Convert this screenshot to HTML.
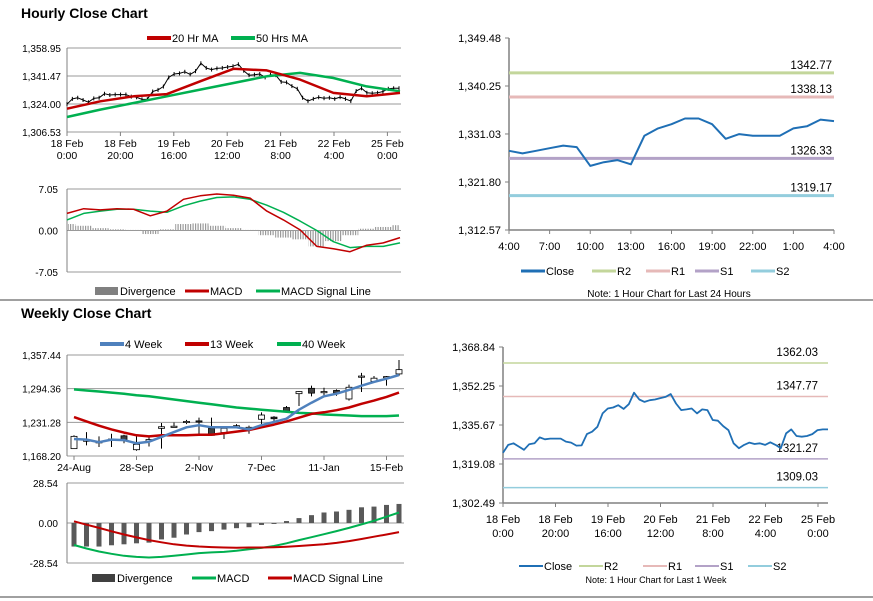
<!DOCTYPE html>
<html><head><meta charset="utf-8"><style>
html,body{margin:0;padding:0;background:#fff;}
svg{display:block;font-family:"Liberation Sans",Arial,sans-serif;}
</style></head><body>
<svg id="c" width="873" height="601" viewBox="0 0 873 601">
<defs><pattern id="stripes" width="2.5" height="4" patternUnits="userSpaceOnUse"><rect x="0" y="0" width="1.2" height="4" fill="#9a9a9a"/></pattern></defs>
<line x1="0" y1="300" x2="873" y2="300" stroke="#808080" stroke-width="1.5"/>
<line x1="0" y1="597" x2="873" y2="597" stroke="#808080" stroke-width="1.5"/>
<text x="21" y="18" font-size="14" font-weight="bold">Hourly Close Chart</text>
<text x="21" y="318" font-size="14" font-weight="bold">Weekly Close Chart</text>
<text x="669" y="297" font-size="10" text-anchor="middle">Note: 1 Hour Chart for Last 24 Hours</text>
<text x="656" y="583" font-size="9" text-anchor="middle">Note: 1 Hour Chart for Last 1 Week</text>
</svg>
<script>
// ---- data ----
const weekCloseSeries = [1323.9,1327.2,1327.9,1326.5,1325.1,1327.5,1327.9,1330.4,1329.6,1329.9,1329.9,1329.9,1328.6,1328.2,1326.9,1327.0,1331.8,1332.8,1334.9,1340.6,1342.7,1343.1,1344.1,1342.5,1344.5,1349.4,1346.5,1345.5,1346.2,1346.5,1347.1,1347.6,1348.8,1344.8,1342.0,1342.3,1342.7,1340.6,1342.3,1342.0,1337.8,1337.5,1335.2,1333.5,1327.9,1325.8,1327.2,1328.2,1327.6,1327.9,1327.2,1328.3,1327.2,1325.8,1332.1,1333.8,1331.0,1330.7,1331.0,1331.8,1333.5,1333.8,1333.8];
const ma20 = [1321.1,1325.7,1328.8,1330.2,1338.2,1346.0,1345.0,1339.2,1330.9,1328.8,1330.9];
const ma50 = [1315.9,1320.5,1324.6,1328.8,1333.0,1337.1,1341.3,1343.4,1340.2,1335.0,1331.9];
const hMacd = [2.9,3.7,3.5,3.7,3.6,2.5,3.3,5.3,5.9,6.2,6.0,5.5,3.3,1.8,0.1,-2.7,-3.1,-3.6,-2.5,-2.1,-1.2];
const hSignal = [1.8,2.9,3.3,3.6,3.6,3.3,3.1,4.2,5.0,5.6,5.7,5.3,4.3,3.1,1.6,0.0,-1.9,-2.9,-2.7,-2.7,-2.1];
const hDiv = [1.1,0.8,0.4,0.2,0.1,-0.6,0.2,1.1,1.2,0.8,0.4,0.1,-0.8,-1.2,-1.5,-2.7,-1.8,-0.8,0.3,0.6,0.9];
const dayClose = [1327.8,1327.3,1327.8,1328.3,1328.8,1328.5,1324.9,1325.6,1326.0,1325.2,1330.7,1332.1,1332.9,1334.0,1334.0,1332.9,1330.1,1331.0,1330.7,1330.7,1330.7,1332.1,1332.5,1333.8,1333.5];
const dayLevels = [1342.77,1338.13,1326.33,1319.17];
const weekLevels = [1362.03,1347.77,1321.27,1309.03];
const levelNames = ['R2','R1','S1','S2'];
const wOpen  = [1182,1197,1195,1199,1206,1180,1196,1220,1224,1232,1234,1220,1212,1223,1222,1237,1241,1259,1285,1295,1289,1291,1275,1318,1308,1316,1322];
const wClose = [1205,1198,1193,1200,1199,1190,1199,1223,1224,1233,1233,1207,1220,1225,1222,1245,1238,1252,1289,1286,1289,1286,1297,1318,1314,1317,1330];
const wHigh  = [1207,1213,1205,1210,1208,1205,1203,1230,1231,1236,1240,1240,1223,1228,1225,1250,1243,1262,1290,1300,1296,1293,1302,1324,1318,1318,1348];
const wLow   = [1182,1188,1185,1185,1192,1178,1186,1182,1222,1228,1210,1207,1200,1220,1210,1222,1233,1252,1262,1280,1282,1281,1272,1288,1305,1300,1318];
const ma4w  = [1200,1199,1194,1199,1198,1192,1195,1204,1213,1222,1226,1222,1222,1222,1218,1226,1232,1238,1255,1268,1280,1285,1292,1300,1307,1313,1320];
const ma13w = [1241,1233,1225,1218,1212,1207,1205,1207,1207,1207,1208,1208,1211,1214,1217,1222,1227,1233,1240,1247,1250,1254,1259,1266,1272,1279,1287];
const ma40w = [1293,1291,1289,1287,1285,1282,1280,1277,1274,1271,1268,1265,1262,1259,1257,1255,1253,1251,1249,1248,1246,1245,1244,1243,1243,1243,1244];
const wDiv = [-16.8,-16.8,-16.8,-15.9,-15.2,-14.5,-14.0,-11.7,-10.5,-8.2,-6.5,-5.8,-4.7,-3.7,-3.0,-1.4,-0.7,1.4,3.5,5.6,7.5,8.2,9.4,11.2,11.7,12.9,13.6];
const wMacd = [-15.7,-18.2,-20.3,-22.0,-23.4,-24.2,-24.6,-24.2,-23.4,-22.5,-21.5,-21.0,-20.6,-19.8,-18.7,-17.8,-16.4,-14.5,-12.2,-10.1,-8.0,-5.8,-3.5,-1.0,1.6,4.5,7.5];
const wSignal = [1.2,-1.2,-3.5,-5.9,-8.2,-10.3,-12.2,-13.8,-15.2,-16.1,-16.8,-17.2,-17.5,-17.6,-17.5,-17.5,-17.3,-16.9,-16.4,-15.8,-15.2,-14.2,-12.9,-11.4,-9.8,-8.2,-6.5];
const hPriceTicks = ['1,358.95','1,341.47','1,324.00','1,306.53'];
const hMacdTicks = ['7.05','0.00','-7.05'];
const hXLabels = [['18 Feb','0:00'],['18 Feb','20:00'],['19 Feb','16:00'],['20 Feb','12:00'],['21 Feb','8:00'],['22 Feb','4:00'],['25 Feb','0:00']];
const dayYTicks = ['1,349.48','1,340.25','1,331.03','1,321.80','1,312.57'];
const dayXLabels = ['4:00','7:00','10:00','13:00','16:00','19:00','22:00','1:00','4:00'];
const wPriceTicks = ['1,357.44','1,294.36','1,231.28','1,168.20'];
const wMacdTicks = ['28.54','0.00','-28.54'];
const wXLabels = ['24-Aug','28-Sep','2-Nov','7-Dec','11-Jan','15-Feb'];
const weekYTicks = ['1,368.84','1,352.25','1,335.67','1,319.08','1,302.49'];

// ---- helpers ----
const NS='http://www.w3.org/2000/svg';
const svg=document.getElementById('c');
function mk(tag,attrs){const e=document.createElementNS(NS,tag);for(const k in attrs)e.setAttribute(k,attrs[k]);svg.appendChild(e);return e;}
function lin(d0,d1,r0,r1){return v=>r0+(v-d0)*(r1-r0)/(d1-d0);}
function num(s){return parseFloat(s.replace(/,/g,''));}
function pts(arr,xf,yf){return arr.map((v,i)=>xf(i).toFixed(1)+','+yf(v).toFixed(1)).join(' ');}
function line(arr,xf,yf,color,w,name){const e=mk('polyline',{points:pts(arr,xf,yf),fill:'none',stroke:color,'stroke-width':w,'stroke-linejoin':'round'});


return e;}
function txt(x,y,s,size,anchor,name){const e=mk('text',{x:x,y:y,'font-size':size,'text-anchor':anchor||'start'});e.textContent=s;


return e;}
function hl(x1,x2,y,color,w,name){const e=mk('line',{x1:x1,x2:x2,y1:y,y2:y,stroke:color,'stroke-width':w});


return e;}
function vl(x,y1,y2,color,w,name){const e=mk('line',{x1:x,x2:x,y1:y1,y2:y2,stroke:color,'stroke-width':w});


return e;}
function legend(x,y,color,w,label,name,box){
 if(box){const r=mk('rect',{x:x,y:y-4,width:23,height:8,fill:color});
 
 }
 else hl(x,x+24,y,color,w,name+'-swatch');
 txt(x+25,y+4,label,11,'start',name);}
const RED='#c00000',GREEN='#00b050',BLUE='#4f81bd',GRAY='#808080';

// ---- Panel 1: hourly price ----
{const y=lin(num(hPriceTicks[3]),num(hPriceTicks[0]),132,48);
 hPriceTicks.forEach(t=>{hl(67,401,y(num(t)),'#999',1,'hourly-gridline');txt(61,y(num(t))+4,t,10,'end','hourly-y-tick');});
 vl(67,48,132,GRAY,1,'hourly-y-axis');
 hXLabels.forEach((l,i)=>{const x=67+i*53.4;vl(x,132,136,GRAY,1,'hourly-x-tick');txt(x,147,l[0],10.5,'middle','hourly-x-label');txt(x,159,l[1],10.5,'middle','hourly-x-label');});
 const xs=i=>67+i*(332/(weekCloseSeries.length-1));
 line(weekCloseSeries,xs,y,'#000',1,'hourly-close-line');
 weekCloseSeries.forEach((v,i)=>{vl(xs(i),y(v)-2,y(v)+2,'#000',1,'hourly-candle');});
 const xm=i=>67+i*(333/(ma20.length-1));
 line(ma50,xm,y,GREEN,2.5,'ma50-line');
 line(ma20,xm,y,RED,2.5,'ma20-line');
 legend(147,38,RED,4,'20 Hr MA','legend-20hr-ma');
 legend(231,38,GREEN,4,'50 Hrs MA','legend-50hr-ma');}

// ---- Panel 2: hourly MACD ----
{const y=lin(-7.05,7.05,272,189);
 hMacdTicks.forEach(t=>{hl(67,401,y(num(t)),'#999',1,'hourly-macd-gridline');txt(58,y(num(t))+4,t,10,'end','hourly-macd-y-tick');});
 vl(67,189,272,GRAY,1,'hourly-macd-y-axis');
 const xs=i=>67+i*(333/(hMacd.length-1));
 hDiv.forEach((v,i)=>{const y0=y(0),y1=y(v);const xa=Math.max(68,xs(i)-8.3),xb=Math.min(400,xs(i)+8.3);
 const r=mk('rect',{x:xa,y:Math.min(y0,y1),width:xb-xa,height:Math.max(0.5,Math.abs(y1-y0)),fill:'url(#stripes)'});
 
 });
 line(hSignal,xs,y,GREEN,1.5,'hourly-macd-signal-line');
 line(hMacd,xs,y,RED,1.5,'hourly-macd-line');
 legend(95,291,GRAY,8,'Divergence','legend-hourly-divergence',true);
 legend(185,291,RED,3,'MACD','legend-hourly-macd');
 legend(256,291,GREEN,3,'MACD Signal Line','legend-hourly-signal');}

// ---- Panel 3: day close vs pivots ----
{const y=lin(num(dayYTicks[4]),num(dayYTicks[0]),230,38);
 vl(509,38,230,GRAY,1.5,'day-y-axis');hl(509,834,230,GRAY,1.5,'day-x-axis');
 dayYTicks.forEach(t=>{hl(505,509,y(num(t)),GRAY,1,'day-y-tick-mark');txt(501,y(num(t))+4,t,11,'end','day-y-tick');});
 dayXLabels.forEach((l,i)=>{const x=509+i*(325/8);vl(x,230,234,GRAY,1,'day-x-tick');txt(x,250,l,11,'middle','day-x-label');});
 const cols=['#c3d69b','#e6b9b8','#b3a2c7','#93cddd'];
 dayLevels.forEach((v,i)=>{hl(509,834,y(v),cols[i],3,'day-level-'+levelNames[i]);txt(832,y(v)-4,v.toFixed(2),11.5,'end','day-level-label');});
 const xs=i=>509+i*(325/(dayClose.length-1));
 line(dayClose,xs,y,'#1f6fb5',2,'day-close-line');
 legend(521,271,'#1f6fb5',3,'Close','legend-day-close');
 const lx=[592,646,695,751];
 levelNames.forEach((n,i)=>legend(lx[i],271,cols[i],3,n,'legend-day-'+n));}

// ---- Panel 4: weekly candles ----
{const y=lin(num(wPriceTicks[3]),num(wPriceTicks[0]),456,355);
 wPriceTicks.forEach(t=>{hl(67,404,y(num(t)),'#999',1,'weekly-gridline');txt(61,y(num(t))+4,t,10,'end','weekly-y-tick');});
 vl(67,355,456,GRAY,1,'weekly-y-axis');
 const xs=i=>74+i*12.5;
 wXLabels.forEach((l,i)=>{const x=74+i*5*12.5;vl(x,456,460,GRAY,1,'weekly-x-tick');txt(x,471,l,10.5,'middle','weekly-x-label');});
 wOpen.forEach((o,i)=>{const c=wClose[i],x=xs(i);vl(x,y(wHigh[i]),y(wLow[i]),'#000',1,'weekly-candle-wick');
 const top=y(Math.max(o,c)),h=Math.max(1.2,Math.abs(y(o)-y(c)));
 const r=mk('rect',{x:x-3,y:top,width:6,height:h,fill:c>=o?'#fff':'#404040',stroke:'#000','stroke-width':0.8});
 
 });
 line(ma40w,xs,y,GREEN,2.5,'ma40w-line');
 line(ma13w,xs,y,RED,2.5,'ma13w-line');
 line(ma4w,xs,y,BLUE,2.5,'ma4w-line');
 legend(100,344,BLUE,4,'4 Week','legend-4-week');
 legend(185,344,RED,4,'13 Week','legend-13-week');
 legend(277,344,GREEN,4,'40 Week','legend-40-week');}

// ---- Panel 5: weekly MACD ----
{const y=lin(-28.54,28.54,563,483);
 wMacdTicks.forEach(t=>{hl(67,404,y(num(t)),'#999',1,'weekly-macd-gridline');txt(58,y(num(t))+4,t,10,'end','weekly-macd-y-tick');});
 vl(67,483,563,GRAY,1,'weekly-macd-y-axis');
 const xs=i=>74+i*12.5;
 wDiv.forEach((v,i)=>{const y0=y(0),y1=y(v);const r=mk('rect',{x:xs(i)-2.5,y:Math.min(y0,y1),width:5,height:Math.max(0.5,Math.abs(y1-y0)),fill:'#595959'});
 
 });
 line(wMacd,xs,y,GREEN,2,'weekly-macd-line');
 line(wSignal,xs,y,RED,2,'weekly-signal-line');
 legend(92,578,'#404040',8,'Divergence','legend-weekly-divergence',true);
 legend(192,578,GREEN,3,'MACD','legend-weekly-macd');
 legend(268,578,RED,3,'MACD Signal Line','legend-weekly-signal');}

// ---- Panel 6: week close vs pivots ----
{const y=lin(num(weekYTicks[4]),num(weekYTicks[0]),503,347);
 vl(503,347,503,GRAY,1.5,'week-y-axis');hl(503,828,503,GRAY,1.5,'week-x-axis');
 weekYTicks.forEach(t=>{hl(499,503,y(num(t)),GRAY,1,'week-y-tick-mark');txt(495,y(num(t))+4,t,11,'end','week-y-tick');});
 hXLabels.forEach((l,i)=>{const x=503+i*52.5;vl(x,503,507,GRAY,1,'week-x-tick');txt(x,523,l[0],11,'middle','week-x-label');txt(x,537,l[1],11,'middle','week-x-label');});
 const cols=['#c3d69b','#e6b9b8','#b3a2c7','#93cddd'];
 weekLevels.forEach((v,i)=>{hl(503,828,y(v),cols[i],1.5,'week-level-'+levelNames[i]);txt(818,y(v)-7,v.toFixed(2),11.5,'end','week-level-label');});
 const xs=i=>503+i*(325/(weekCloseSeries.length-1));
 line(weekCloseSeries,xs,y,'#1f6fb5',1.8,'week-close-line');
 legend(519,566,'#1f6fb5',2,'Close','legend-week-close');
 const lx=[579,643,695,748];
 levelNames.forEach((n,i)=>legend(lx[i],566,cols[i],2,n,'legend-week-'+n));}
</script>
</body></html>
